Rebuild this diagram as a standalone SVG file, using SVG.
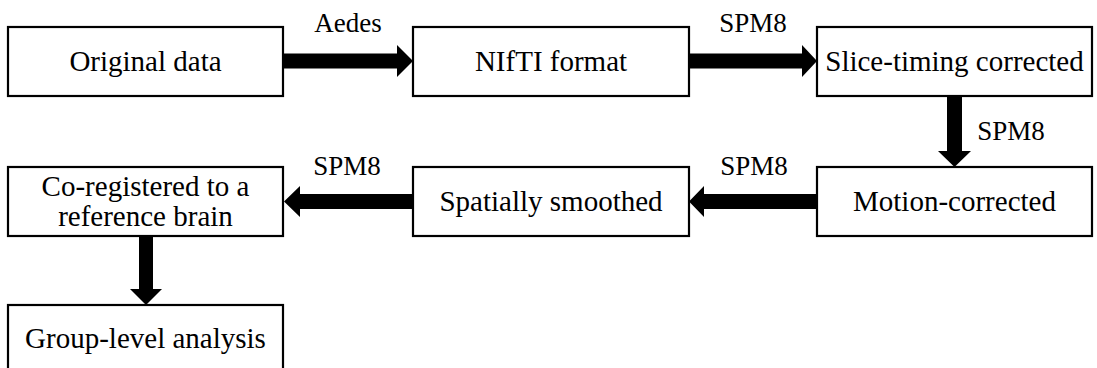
<svg xmlns="http://www.w3.org/2000/svg" width="1097" height="368" viewBox="0 0 1097 368">
<style>
.box{fill:#fff;stroke:#000;stroke-width:2.2}
.t{font-family:"Liberation Serif","Times New Roman",serif;font-size:29px;fill:#000;text-anchor:middle}
.l{font-family:"Liberation Serif","Times New Roman",serif;font-size:27px;fill:#000;text-anchor:middle}
.arr{fill:#000;stroke:none}
</style>
<rect width="1097" height="368" fill="#fff"/>
<g id="connectors">
<polygon class="arr" points="284,53.5 397,53.5 397,45 413,61 397,77 397,68.5 284,68.5"/>
<polygon class="arr" points="690,53.5 802,53.5 802,45 817,61 802,77 802,68.5 690,68.5"/>
<polygon class="arr" points="947,96 962,96 962,151 971,151 954.5,167 938,151 947,151"/>
<polygon class="arr" points="817,194 704,194 704,186 689,201.5 704,217 704,209 817,209"/>
<polygon class="arr" points="413,194 300,194 300,186 284,201.5 300,217 300,209 413,209"/>
<polygon class="arr" points="139,236 153,236 153,289 162,289 146,305 130,289 139,289"/>
<text class="l" x="348" y="32">Aedes</text>
<text class="l" x="753" y="32">SPM8</text>
<text class="l" x="1011" y="140">SPM8</text>
<text class="l" x="754" y="175">SPM8</text>
<text class="l" x="347" y="175">SPM8</text>
</g>
<g id="n1"><rect class="box" x="8" y="27" width="275" height="69"/><text class="t" x="145.5" y="71">Original data</text></g>
<g id="n2"><rect class="box" x="413" y="27" width="276" height="69"/><text class="t" x="551" y="71">NIfTI format</text></g>
<g id="n3"><rect class="box" x="817" y="27" width="275" height="69"/><text class="t" x="954.5" y="71">Slice-timing corrected</text></g>
<g id="n4"><rect class="box" x="817" y="167" width="275" height="69"/><text class="t" x="954.5" y="211">Motion-corrected</text></g>
<g id="n5"><rect class="box" x="413" y="167" width="276" height="69"/><text class="t" x="551" y="211">Spatially smoothed</text></g>
<g id="n6"><rect class="box" x="8" y="167" width="275" height="69"/><text class="t" x="145.5" y="196">Co-registered to a</text><text class="t" x="145.5" y="226">reference brain</text></g>
<g id="n7"><rect class="box" x="8" y="305" width="275" height="75"/><text class="t" x="145.5" y="348">Group-level analysis</text></g>
</svg>
